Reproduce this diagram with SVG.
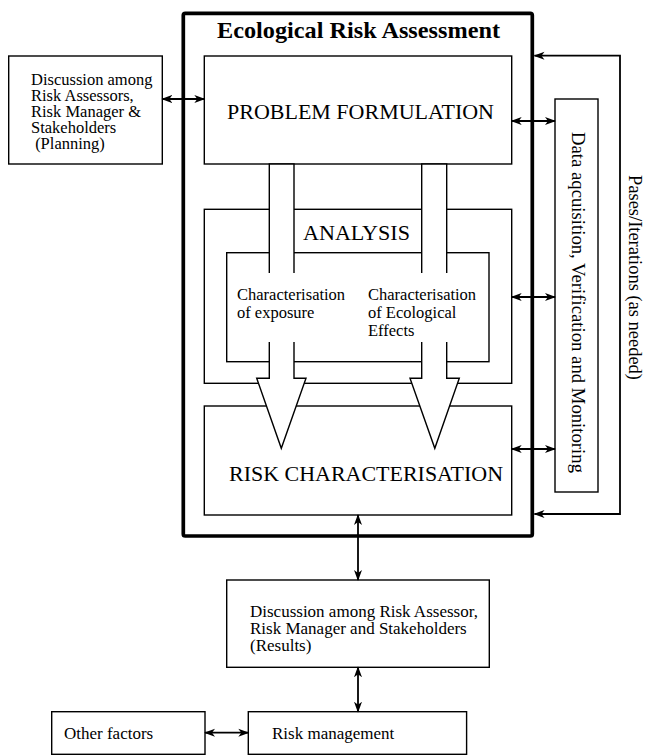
<svg xmlns="http://www.w3.org/2000/svg" width="645" height="756" viewBox="0 0 645 756">
<style>
text{font-family:"Liberation Serif","Times New Roman",serif;fill:#000}
.box{fill:#fff;stroke:#000;stroke-width:1.4}
.big{font-size:21px}
.mid{font-size:17px}
.sm{font-size:16.5px}
.con{fill:none;stroke:#000;stroke-width:1.8;marker-start:url(#ah);marker-end:url(#ah)}
.fat{fill:#fff;stroke:#000;stroke-width:1.4;stroke-linejoin:miter}
</style>
<defs>
<marker id="ah" markerUnits="userSpaceOnUse" markerWidth="12" markerHeight="10" refX="10" refY="4" orient="auto-start-reverse" viewBox="0 0 12 8">
<path d="M0,0 L11,4 L0,8 L3,4 z" fill="#000"/>
</marker>
</defs>
<rect width="645" height="756" fill="#fff"/>

<g id="ecological-risk-assessment">
<rect x="183.3" y="13.3" width="349" height="522.7" rx="2" fill="none" stroke="#000" stroke-width="3.7"/>
<text x="358.5" y="37.7" font-size="24" font-weight="bold" text-anchor="middle" textLength="283" lengthAdjust="spacingAndGlyphs">Ecological Risk Assessment</text>
</g>

<g id="problem-formulation">
<rect class="box" x="204.3" y="56" width="307.4" height="108"/>
<text class="big" x="227" y="119.3" textLength="267" lengthAdjust="spacingAndGlyphs">PROBLEM FORMULATION</text>
</g>

<g id="analysis">
<rect class="box" x="204.3" y="209.3" width="307.4" height="174"/>
<text class="big" x="303" y="240" textLength="107" lengthAdjust="spacingAndGlyphs">ANALYSIS</text>
<rect class="box" x="226.7" y="252.7" width="262.3" height="109"/>
</g>

<g id="risk-characterisation">
<rect class="box" x="204.3" y="406" width="307.4" height="109"/>
<text class="big" x="229" y="481" textLength="274" lengthAdjust="spacingAndGlyphs">RISK CHARACTERISATION</text>
</g>

<g id="flow-arrows">
<polygon class="fat" points="269.3,164 294,164 294,378.3 306,378.3 281.3,448.3 256.7,378.3 269.3,378.3"/>
<polygon class="fat" points="421.7,164 446.7,164 446.7,378.3 459.3,378.3 434.8,448.3 410,378.3 421.7,378.3"/>
</g>

<g id="characterisation-exposure">
<rect x="234" y="273" width="118" height="69" fill="#fff"/>
<text class="sm" x="237" y="300">Characterisation</text>
<text class="sm" x="237" y="318">of exposure</text>
</g>

<g id="characterisation-effects">
<rect x="365" y="273" width="120" height="69" fill="#fff"/>
<text class="sm" x="368" y="300">Characterisation</text>
<text class="sm" x="368" y="318">of Ecological</text>
<text class="sm" x="368" y="336">Effects</text>
</g>

<g id="planning">
<rect class="box" x="8.7" y="56" width="153.6" height="108"/>
<text class="sm" x="31" y="85">Discussion among</text>
<text class="sm" x="31" y="101">Risk Assessors,</text>
<text class="sm" x="31" y="117">Risk Manager &amp;</text>
<text class="sm" x="31" y="133">Stakeholders</text>
<text class="sm" x="31" y="149" xml:space="preserve"> (Planning)</text>
</g>

<g id="data-acquisition">
<rect class="box" x="555" y="99" width="43" height="393"/>
<text transform="translate(572,132) rotate(90)" font-size="18.5" textLength="341" lengthAdjust="spacingAndGlyphs">Data aqcuisition, Verification and Monitoring</text>
</g>

<g id="iterations-label">
<text transform="translate(628.5,175) rotate(90)" font-size="18.5" textLength="205" lengthAdjust="spacingAndGlyphs">Pases/Iterations (as needed)</text>
</g>

<g id="results">
<rect class="box" x="226.7" y="580" width="262.6" height="87.3"/>
<text class="mid" x="250" y="617">Discussion among Risk Assessor,</text>
<text class="mid" x="250" y="634">Risk Manager and Stakeholders</text>
<text class="mid" x="250" y="651">(Results)</text>
</g>

<g id="other-factors">
<rect class="box" x="51.7" y="711.7" width="153.3" height="42.6"/>
<text class="mid" x="64" y="739">Other factors</text>
</g>

<g id="risk-management">
<rect class="box" x="248.3" y="711.7" width="218.3" height="42.6"/>
<text class="mid" x="272" y="739">Risk management</text>
</g>

<g id="connectors">
<path class="con" d="M162.3,99 H204.3"/>
<path class="con" d="M511.7,121 H555"/>
<path class="con" d="M511.7,297 H555"/>
<path class="con" d="M511.7,449 H555"/>
<path class="con" d="M534.5,55.7 H620 V514 H534.5"/>
<path class="con" d="M358,515 V580"/>
<path class="con" d="M358,667.3 V711.7"/>
<path class="con" d="M205,732.7 H248.3"/>
</g>
</svg>
